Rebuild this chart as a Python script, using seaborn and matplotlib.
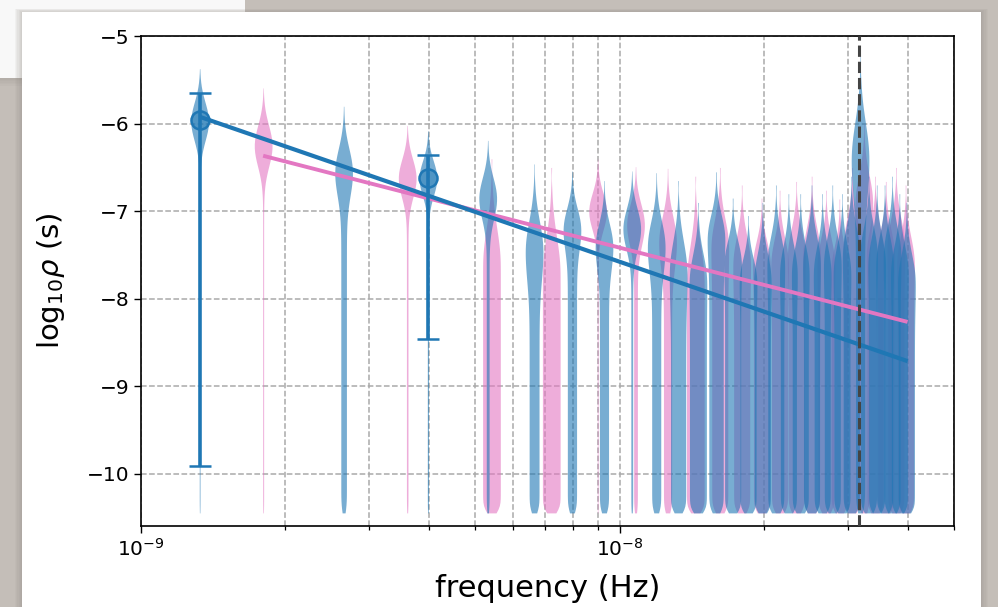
import numpy as np
import pandas as pd
import matplotlib
matplotlib.use("Agg")
import matplotlib.pyplot as plt
import seaborn as sns
from matplotlib.patches import Rectangle
from matplotlib.ticker import LogLocator, NullFormatter

# ---------------- data ----------------
# free-spectrum bins of pulsar A (blue), frequencies in Hz
blue_freq = [1.326e-9, 2.651e-9, 3.977e-9, 5.303e-9, 6.629e-9, 7.954e-9, 9.280e-9,
             10.606e-9, 11.931e-9, 13.257e-9, 14.583e-9, 15.908e-9, 17.234e-9,
             18.560e-9, 19.886e-9, 21.211e-9, 22.537e-9, 23.863e-9, 25.188e-9,
             26.514e-9, 27.840e-9, 29.165e-9, 30.491e-9, 31.817e-9, 33.143e-9,
             34.468e-9, 35.794e-9, 37.120e-9, 38.445e-9, 39.771e-9]
# posterior shape per bin: mode, spread, relative height of the flat (prior) part
blue_mode = [-5.97, -6.55, -6.62, -6.85, -7.45, -7.20, -7.40, -7.20, -7.40, -7.70,
             -7.80, -7.30, -7.60, -7.80, -7.80, -7.60, -7.70, -7.70, -7.60, -7.70,
             -7.60, -7.70, -7.50, -6.40, -7.50, -7.60, -7.60, -7.50, -7.70, -7.80]
blue_spread = [0.20, 0.25, 0.18, 0.22, 0.33, 0.22, 0.25, 0.22, 0.28, 0.35,
               0.30, 0.25, 0.25, 0.25, 0.30, 0.30, 0.30, 0.30, 0.30, 0.30,
               0.30, 0.30, 0.30, 0.40, 0.30, 0.30, 0.30, 0.30, 0.30, 0.30]
blue_flat = [0.04, 0.30, 0.06, 0.15, 0.55, 0.50, 0.50, 0.10, 0.50, 0.85,
             0.95, 0.80, 0.90, 0.90, 0.90, 0.90, 0.90, 0.90, 0.90, 0.90,
             0.90, 0.90, 0.90, 0.50, 0.90, 0.90, 0.90, 0.90, 0.90, 0.90]

# free-spectrum bins of pulsar B (pink)
pink_freq = [1.8e-9, 3.6e-9, 5.4e-9, 7.2e-9, 9.0e-9, 10.8e-9, 12.6e-9, 14.4e-9,
             16.2e-9, 18.0e-9, 19.8e-9, 21.6e-9, 23.4e-9, 25.2e-9, 27.0e-9,
             28.8e-9, 30.6e-9, 32.4e-9, 34.2e-9, 36.0e-9, 37.8e-9, 39.6e-9]
pink_mode = [-6.25, -6.62, -7.60, -7.70, -7.00, -7.15, -7.35, -7.80, -7.40, -7.60,
             -7.60, -7.60, -7.50, -7.50, -7.60, -7.70, -7.40, -6.90, -7.50, -7.50,
             -7.40, -7.60]
pink_spread = [0.22, 0.20, 0.40, 0.40, 0.20, 0.22, 0.28, 0.40, 0.30, 0.30,
               0.25, 0.28, 0.28, 0.30, 0.28, 0.28, 0.30, 0.30, 0.30, 0.28,
               0.30, 0.30]
pink_flat = [0.05, 0.08, 1.00, 1.00, 0.04, 0.20, 0.45, 1.00, 0.90, 0.90,
             0.90, 0.90, 0.90, 0.90, 0.90, 0.90, 0.90, 0.60, 0.90, 0.90,
             0.90, 0.90]
prior_low = -10.45

# power-law fits (end points)
blue_fit_freq = [1.326e-9, 3.999e-8]
blue_fit_val = [-5.92, -8.715]
pink_fit_freq = [1.8e-9, 3.999e-8]
pink_fit_val = [-6.366, -8.266]

# highlighted bins with error bars
err_freq = [1.326e-9, 3.977e-9]
err_mid = [-5.958, -6.625]
err_hi = [-5.649, -6.362]
err_lo = [-9.916, -8.463]

one_year = 3.17e-8  # 1/yr in Hz

BLUE = "#1f77b4"
PINK = "#e377c2"


def bin_samples(mode, spread, flat, n=500):
    """Deterministic quantiles of a bin posterior: flat prior part below
    the mode plus a gaussian bump / shoulder."""
    y = np.linspace(prior_low, mode + 3.0 * spread, 3000)
    g = np.exp(-0.5 * ((y - mode) / spread) ** 2)
    p = flat * np.where(y <= mode, 1.0, g) + (1 - flat) * g
    cdf = np.cumsum(p)
    cdf = (cdf - cdf[0]) / (cdf[-1] - cdf[0])
    q = np.linspace(0, 1, n)
    return np.interp(q, cdf, y)


def make_df(freqs, modes, spreads, flats):
    rows = []
    for f, m, s, h in zip(freqs, modes, spreads, flats):
        for v in bin_samples(m, s, h):
            rows.append((f, v))
    return pd.DataFrame(rows, columns=["freq", "logrho"])


df_blue = make_df(blue_freq, blue_mode, blue_spread, blue_flat)
df_pink = make_df(pink_freq, pink_mode, pink_spread, pink_flat)

# ---------------- figure ----------------
W, H = 998, 607
fig = plt.figure(figsize=(W / 100, H / 100), dpi=100)
fig.patch.set_facecolor("#c4beb8")


def px_rect(x0, y0, x1, y1, **kw):
    r = Rectangle((x0 / W, 1 - y1 / H), (x1 - x0) / W, (y1 - y0) / H,
                  transform=fig.transFigure, **kw)
    fig.add_artist(r)
    return r


# screenshot-like background: card behind, shadows, white panel
for i in range(6):
    px_rect(0, 0, 245, 78 + i * 1.5, facecolor="#8d8782", alpha=0.06, lw=0, zorder=-10)
px_rect(0, 0, 245, 78, facecolor="#f8f8f8", lw=0, zorder=-9)
for i in range(6):
    d = 1 + i * 1.2
    px_rect(22 - d, 12 - d * 0.5, 981 + d, 607, facecolor="#8d8782", alpha=0.07, lw=0, zorder=-8)
px_rect(22, 12, 981, 607, facecolor="white", lw=0, zorder=-7)

ax = fig.add_axes([141 / W, 1 - 526 / H, (954 - 141) / W, (526 - 36.3) / H])
ax.set_facecolor("white")

VIOLIN_W = 0.037  # full violin width in decades

for df, freqs, col, z in [(df_pink, pink_freq, PINK, 2), (df_blue, blue_freq, BLUE, 3)]:
    min_gap = np.diff(np.log10(freqs)).min()
    sns.violinplot(data=df, x="freq", y="logrho", orient="x", native_scale=True,
                   log_scale=(True, False), color=col, saturation=1, alpha=0.6,
                   linewidth=0, inner=None, cut=0, density_norm="width",
                   bw_adjust=0.25, width=VIOLIN_W / min_gap, ax=ax, zorder=z)

# power-law fits
ax.plot(pink_fit_freq, pink_fit_val, color=PINK, lw=2.8, zorder=5, solid_capstyle="butt")
ax.plot(blue_fit_freq, blue_fit_val, color=BLUE, lw=3.0, zorder=6, solid_capstyle="butt")

# error bars
yerr = [np.array(err_mid) - np.array(err_lo), np.array(err_hi) - np.array(err_mid)]
ax.errorbar(err_freq, err_mid, yerr=yerr, fmt="o", color=BLUE, ms=13,
            mfc=(0.12, 0.47, 0.71, 0.45), mec=BLUE, mew=1.8,
            elinewidth=2.6, capsize=8, capthick=2.8, zorder=7)

ax.axvline(one_year, color="#444444", ls="--", lw=2.2, zorder=8)

ax.set_xscale("log")
ax.set_xlim(1e-9, 5.0e-8)
ax.set_ylim(-10.6, -5)
ax.set_xticks([1e-9, 1e-8])
ax.xaxis.set_minor_locator(LogLocator(base=10, subs=np.arange(2, 10)))
ax.xaxis.set_minor_formatter(NullFormatter())
ax.set_yticks([-10, -9, -8, -7, -6, -5])
ax.grid(True, which="both", axis="x", ls="--", color="#aaaaaa", lw=1.1, zorder=0)
ax.grid(True, which="major", axis="y", ls="--", color="#aaaaaa", lw=1.1, zorder=0)
ax.set_axisbelow(True)

for sp in ax.spines.values():
    sp.set_linewidth(1.2)
    sp.set_color("black")
ax.tick_params(axis="both", which="major", labelsize=14.5, length=5, width=1)
ax.tick_params(axis="x", which="minor", length=2.8, width=0.9)

ax.set_xlabel("frequency (Hz)", fontsize=22, labelpad=10)
ax.set_ylabel(r"log$_{10}\rho$ (s)", fontsize=21, labelpad=14)

fig.savefig("out.png", dpi=100, facecolor=fig.get_facecolor())
